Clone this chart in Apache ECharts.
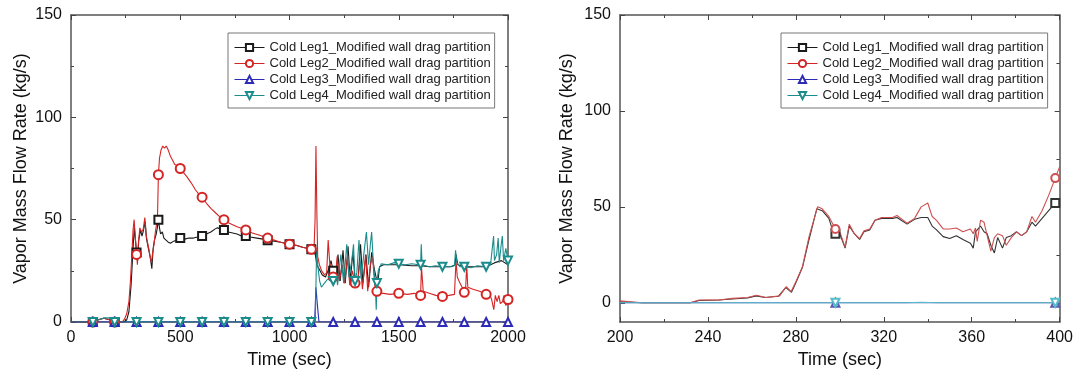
<!DOCTYPE html>
<html>
<head>
<meta charset="utf-8">
<script src="https://cdn.jsdelivr.net/npm/echarts@6/dist/echarts.min.js"></script>
<style>
  html, body { margin: 0; padding: 0; background: #fff; }
  #chart { width: 1076px; height: 378px; }
</style>
</head>
<body>
<div id="chart"></div>
<script>
const legNames = [
  'Cold Leg1_Modified wall drag partition',
  'Cold Leg2_Modified wall drag partition',
  'Cold Leg3_Modified wall drag partition',
  'Cold Leg4_Modified wall drag partition'
];

// left panel: 0-2000 s, [time, flow]
const leg1L = [[0,0],[100,0],[120,1],[150,1.8],[180,1],[200,0],[240,0],[255,1],[265,5],[275,18],[285,38],[290,46],[295,40],[300,34],[305,30],[310,40],[318,45],[325,42],[330,44],[340,49],[345,41],[352,37],[360,33],[365,30],[370,26],[376,36],[382,40],[390,43],[395,46],[400,50],[405,46],[410,43],[418,44],[425,41],[435,40],[445,39],[455,38.5],[470,39.5],[485,40],[500,41],[520,40.5],[540,41],[560,41],[580,41.5],[600,42],[620,43],[640,44],[660,45.5],[670,46],[685,45.5],[700,45],[720,44],[740,43.5],[760,43],[780,42],[800,42],[820,41.5],[850,41],[880,40.5],[900,40],[930,39.5],[960,39],[1000,38],[1030,37.5],[1060,36.5],[1080,36],[1100,35.5],[1110,35],[1118,33],[1125,28],[1135,26],[1150,23],[1165,22],[1180,26],[1190,30],[1200,25],[1210,21],[1222,33],[1232,20],[1245,35],[1255,19],[1268,37],[1278,20],[1290,34],[1300,21],[1312,18],[1325,38],[1336,19],[1350,33],[1362,17],[1376,34],[1388,26],[1396,22],[1404,19],[1412,27],[1430,28],[1470,28],[1500,28],[1560,27.5],[1600,27.5],[1640,27],[1700,27],[1740,27],[1758,28],[1762,33],[1770,28],[1800,27],[1850,27],[1900,27],[1940,29],[1970,30],[2000,28]];
const leg2L = [[0,0],[100,0],[120,1],[150,1.8],[180,1],[200,0],[235,0],[245,1.5],[255,4],[265,10],[272,20],[278,32],[284,45],[289,50],[294,42],[300,33],[304,28],[308,38],[315,46],[322,44],[330,45],[338,51],[343,43],[350,39],[356,36],[362,32],[368,29],[374,34],[380,38],[386,44],[392,48],[396,52],[400,72],[405,80],[412,84],[420,86],[428,85],[436,86],[445,84],[455,81],[465,79],[475,77],[485,76.5],[500,75],[515,73],[530,71],[550,68],[570,64.5],[585,62.5],[600,61],[620,58],[640,55.5],[660,53.5],[680,51.5],[700,50],[720,48.5],[740,47.5],[760,46.5],[780,45.8],[800,45],[830,43.5],[860,42.5],[900,41],[930,40],[960,39],[1000,38],[1030,37.5],[1060,36.5],[1080,36],[1100,35.5],[1112,35],[1117,50],[1121,86],[1125,55],[1129,32],[1137,28],[1147,25],[1160,23],[1170,24],[1177,40],[1184,29],[1195,24],[1200,22],[1210,21],[1218,32],[1228,20],[1242,28],[1252,19],[1265,31],[1276,18],[1288,25],[1300,19],[1310,17],[1322,30],[1334,16],[1348,33],[1358,15],[1370,28],[1380,32],[1390,18],[1400,15],[1412,14],[1430,14],[1460,13.5],[1500,14],[1540,13.5],[1570,14],[1600,13],[1604,27],[1608,27],[1612,15],[1640,14],[1670,13],[1700,12.5],[1730,13],[1755,13.5],[1762,30],[1768,22],[1780,19],[1790,17],[1800,14.5],[1806,16],[1811,28],[1816,17],[1840,16],[1870,15],[1900,13.5],[1915,14],[1925,11],[1935,6],[1942,13],[1950,10],[1958,13],[1965,9],[1976,10],[1982,13],[1990,8],[2000,11]];
const leg3L = [[0,0],[100,0],[200,0],[300,0],[400,0],[500,0],[600,0],[700,0],[800,0],[900,0],[1000,0],[1100,0],[1115,0],[1121,17],[1127,9],[1135,0],[1200,0],[1300,0],[1400,0],[1500,0],[1600,0],[1700,0],[1800,0],[1900,0],[2000,0]];
const leg4L = [[0,0],[100,0],[125,1],[150,2],[175,2],[195,1],[200,0],[300,0],[400,0],[500,0],[600,0],[700,0],[800,0],[900,0],[1000,0],[1100,0],[1118,0],[1124,35],[1130,27],[1138,20],[1146,17],[1160,19],[1175,21],[1190,20],[1200,20],[1212,25],[1220,18],[1235,33],[1248,19],[1262,38],[1272,22],[1285,30],[1293,38],[1300,20],[1308,24],[1318,40],[1328,21],[1342,35],[1352,44],[1362,28],[1370,38],[1376,44],[1384,28],[1392,20],[1397,6],[1400,19],[1406,25],[1420,28.5],[1450,28],[1480,29],[1500,28.5],[1530,28],[1560,28.5],[1590,28],[1600,28],[1603,38],[1607,28],[1640,27],[1670,27.5],[1700,27],[1730,27],[1755,27.5],[1760,35],[1766,29],[1780,27],[1800,27],[1830,26.5],[1860,27.5],[1900,27],[1920,28],[1928,36],[1934,42],[1938,30],[1948,33],[1955,41],[1960,29],[1968,37],[1974,42],[1980,30],[1990,36],[2000,30]];

// right panel: 200-400 s zoom
const leg1R = [[200,0.5],[205,0.3],[210,0],[232,0],[236,1.2],[245,1.5],[251,2],[258,2.5],[262,3.6],[266,2.8],[272,3.4],[275.5,8],[278,5.5],[280,10.5],[283,18.5],[286,33],[289.5,49],[292,48],[295,44],[297,37],[298,36],[300,36],[302.4,28.5],[304.3,40],[306.6,36],[309,33],[311,37],[313.6,38],[316,43],[319,44],[324,44],[326,44.5],[330.6,41],[334,43.5],[337,44.5],[340,44.5],[342,40],[344,38],[347,34.5],[350,33.5],[353,35],[356,33],[359.4,31],[360.7,28.5],[361.7,37],[364,40],[365.6,37],[367,36],[368.7,30],[370.3,26],[371.8,34],[374,28.5],[375.7,34],[378,35],[380.4,37],[382.7,35],[385,37],[387.4,42],[389,40],[392,44],[395,48],[398,52],[400,53]];
const leg2R = [[200,1],[205,0.5],[210,0],[232,0],[236,1.5],[245,1.5],[251,2.3],[258,2.8],[262,3.9],[266.5,2.8],[272.6,3.6],[275.6,8.4],[277.8,5.8],[280,11],[283,18.8],[286,34.5],[289.9,50.1],[292,49],[295,45],[298,38.5],[300,37],[302.4,29],[304.3,41],[306.6,36],[309,33.5],[311,37.5],[313.6,38.5],[316,43],[319,44.5],[324,44.5],[326,45.5],[330.6,41.5],[334,44],[337,50],[340,52],[342,45],[344,43],[347,38.5],[350,38.5],[353,39],[356,37],[359.4,38.5],[360.7,36],[361.7,39],[362.5,32],[364,43],[365.6,42],[367,35],[368.7,27],[370.3,34],[371.8,36],[374,35],[375.7,30],[378,34],[380.4,37],[382.7,35],[385,37],[387.4,45],[389,42],[392,48],[395,56],[398,65],[400,71]];
const leg3R = [[200,0],[298,0],[398,0],[400,0]];
const leg4R = [[200,0],[298,0],[330,0],[337,0.3],[345,0],[398,0],[400,0]];

const marksL = [100,200,300,400,500,600,700,800,900,1000,1100,1200,1300,1400,1500,1600,1700,1800,1900,2000];
const marksLeg1L = [100,200,300,400,500,600,700,800,900,1000,1100,1200];
const marksR = [298, 398];

const xTicksL = [0, 2000, 500];
const xTicksR = [200, 400, 40];
const yTicksL = [0, 150, 50];
const yTicksR = [0, 50, 100, 150];
const yMinorR = [25, 75, 125];

const colorsL = ['#1a1a1a', '#d42424', '#2b2bb8', '#1b8c8c'];
const colorsR = ['#333333', '#cf5050', '#5a5ab0', '#55bccb'];
const symbols = ['emptyRect', 'emptyCircle', 'emptyTriangle', 'emptyTriangle'];
const rotates = [0, 0, 0, 180];

const font = 'Arial, "Liberation Sans", sans-serif';
const axisLine = { show: true, onZero: false, lineStyle: { color: '#555', width: 1.5 } };
const tick = { show: true, inside: true, length: 5, lineStyle: { color: '#444', width: 1 } };
const minor = { show: true, splitNumber: 2, length: 3, lineStyle: { color: '#444', width: 1 } };
const label = { fontSize: 16, color: '#111', fontFamily: font, formatter: v => String(v) };
const nameStyle = { fontSize: 18, color: '#111', fontFamily: font };

function mkSeries(i, pts, marks, color, xi, yi, size) {
  return {
    name: legNames[i], type: 'line', xAxisIndex: xi, yAxisIndex: yi,
    symbol: symbols[i], symbolRotate: rotates[i], symbolSize: size,
    showAllSymbol: true, animation: false,
    lineStyle: { width: 1.1, color: color },
    itemStyle: { color: color, borderWidth: 0.6 },
    data: pts.map(p => marks.includes(p[0]) ? p : { value: p, symbol: 'none' })
  };
}

const chart = echarts.init(document.getElementById('chart'));
const legendBase = {
  orient: 'vertical', top: 33, data: legNames,
  borderColor: '#777', borderWidth: 1, padding: [8, 4, 6, 6],
  itemGap: 3, itemWidth: 30, itemHeight: 9,
  lineStyle: { width: 1 },
  itemStyle: { borderWidth: 0.6 },
  textStyle: { fontSize: 13, color: '#222', fontFamily: font }
};
const noLabel = { show: false };

chart.setOption({
  animation: false,
  legend: [
    Object.assign({ left: 228 }, legendBase),
    Object.assign({ left: 781 }, legendBase)
  ],
  grid: [
    { left: 71, top: 15, width: 437, height: 307 },
    { left: 620, top: 15, width: 441, height: 307 }
  ],
  xAxis: [
    { gridIndex: 0, type: 'value', min: xTicksL[0], max: xTicksL[1], interval: xTicksL[2],
      axisLine, axisTick: tick, minorTick: minor, splitLine: noLabel,
      axisLabel: Object.assign({ margin: 8 }, label),
      name: 'Time (sec)', nameLocation: 'middle', nameGap: 26, nameTextStyle: nameStyle },
    { gridIndex: 0, type: 'value', position: 'top', min: xTicksL[0], max: xTicksL[1], interval: xTicksL[2],
      axisLine, axisTick: tick, minorTick: minor, splitLine: noLabel, axisLabel: noLabel },
    { gridIndex: 1, type: 'value', min: xTicksR[0], max: xTicksR[1], interval: xTicksR[2],
      axisLine, axisTick: tick, minorTick: minor, splitLine: noLabel,
      axisLabel: Object.assign({ margin: 8 }, label),
      name: 'Time (sec)', nameLocation: 'middle', nameGap: 26, nameTextStyle: nameStyle },
    { gridIndex: 1, type: 'value', position: 'top', min: xTicksR[0], max: xTicksR[1], interval: xTicksR[2],
      axisLine, axisTick: tick, minorTick: minor, splitLine: noLabel, axisLabel: noLabel }
  ],
  yAxis: [
    { gridIndex: 0, type: 'value', min: yTicksL[0], max: yTicksL[1], interval: yTicksL[2],
      axisLine, axisTick: tick, minorTick: minor, splitLine: noLabel,
      axisLabel: Object.assign({ margin: 9 }, label),
      name: 'Vapor Mass Flow Rate (kg/s)', nameLocation: 'middle', nameGap: 41, nameTextStyle: nameStyle },
    { gridIndex: 0, type: 'value', position: 'right', min: yTicksL[0], max: yTicksL[1], interval: yTicksL[2],
      axisLine, axisTick: tick, minorTick: minor, splitLine: noLabel, axisLabel: noLabel },
    { gridIndex: 1, type: 'value', min: -10, max: 150,
      axisLine, axisTick: Object.assign({ customValues: yTicksR }, tick), splitLine: noLabel,
      axisLabel: Object.assign({ margin: 9, customValues: yTicksR }, label),
      name: 'Vapor Mass Flow Rate (kg/s)', nameLocation: 'middle', nameGap: 44, nameTextStyle: nameStyle },
    { gridIndex: 1, type: 'value', position: 'right', min: -10, max: 150,
      axisLine, axisTick: Object.assign({ customValues: yTicksR }, tick), splitLine: noLabel,
      axisLabel: noLabel },
    { gridIndex: 1, type: 'value', min: -10, max: 150, axisLine: { show: false, onZero: false },
      axisTick: Object.assign({}, tick, { length: 3, customValues: yMinorR }), splitLine: noLabel,
      axisLabel: noLabel },
    { gridIndex: 1, type: 'value', position: 'right', min: -10, max: 150, axisLine: { show: false, onZero: false },
      axisTick: Object.assign({}, tick, { length: 3, customValues: yMinorR }), splitLine: noLabel,
      axisLabel: noLabel }
  ],
  series: [
    mkSeries(0, leg1L, marksLeg1L, colorsL[0], 0, 0, 8),
    mkSeries(1, leg2L, marksL, colorsL[1], 0, 0, 9),
    mkSeries(2, leg3L, marksL, colorsL[2], 0, 0, 8),
    mkSeries(3, leg4L, marksL, colorsL[3], 0, 0, 8),
    mkSeries(0, leg1R, marksR, colorsR[0], 2, 2, 8),
    mkSeries(1, leg2R, marksR, colorsR[1], 2, 2, 8),
    mkSeries(2, leg3R, marksR, colorsR[2], 2, 2, 8),
    mkSeries(3, leg4R, marksR, colorsR[3], 2, 2, 8)
  ]
});
</script>
</body>
</html>
